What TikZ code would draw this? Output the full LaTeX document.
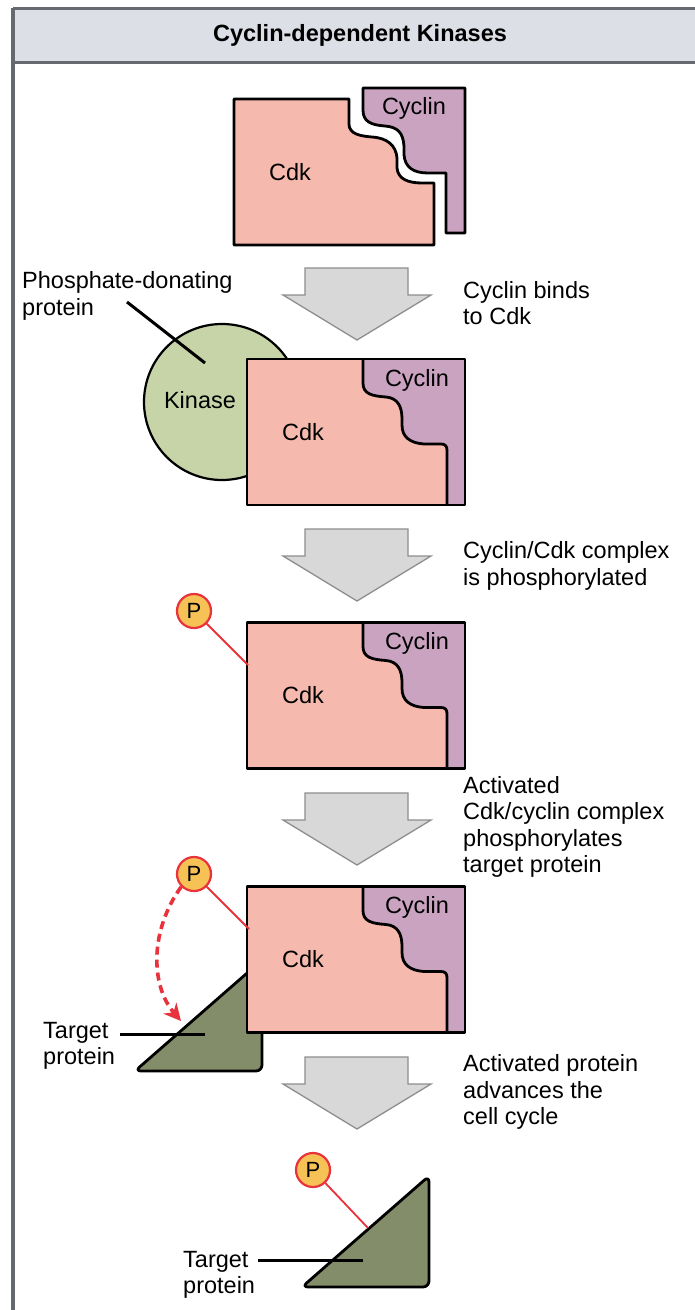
\documentclass[tikz,border=0pt]{standalone}
\usepackage{fontspec}
\setmainfont{Liberation Sans}
\usetikzlibrary{arrows.meta, positioning}
\definecolor{cdkpink}{HTML}{F5B9AD}
\definecolor{cyclinmauve}{HTML}{CAA3C1}
\definecolor{kinasegreen}{HTML}{C6D4A8}
\definecolor{targetgreen}{HTML}{848D6A}
\definecolor{headgray}{HTML}{DCDFE6}
\definecolor{framegray}{HTML}{66696E}
\definecolor{arrowfill}{HTML}{D8D8D8}
\definecolor{arrowedge}{HTML}{8E8E8E}
\definecolor{pyellow}{HTML}{F7C255}
\definecolor{pred}{HTML}{E8323C}
\tikzset{
  lbl/.style={font=\fontsize{23.5}{26.5}\selectfont, align=left, inner sep=0pt},
  outline/.style={draw=black, line width=2.8pt, line join=round},
  steparrow/.style={draw=arrowedge, fill=arrowfill, line width=1.3pt},
  phos/.style={circle, draw=pred, fill=pyellow, line width=2.2pt, minimum size=34pt, inner sep=0pt, font=\fontsize{22}{22}\selectfont},
  plink/.style={draw=pred, line width=1.8pt},
  leader/.style={draw=black, line width=3pt},
  transfer/.style={draw=pred, line width=3.6pt, dash pattern=on 8pt off 5pt, -{Stealth[length=17pt,width=17pt]}}
}

\begin{document}
\begin{tikzpicture}[x=1pt, y=-1pt, >=Stealth]
  \useasboundingbox (0,0) rectangle (695,1310);
  \fill[white] (0,0) rectangle (695,1310);
  \fill[headgray] (13,8) rectangle (695,62);
  \draw[framegray, line width=3pt] (13,8) -- (695,8);
  \draw[framegray, line width=3pt] (13,62) -- (695,62);
  \draw[framegray, line width=3.5pt] (13,8) -- (13,1310);
  \node[lbl, font=\fontsize{23.5}{26.5}\selectfont\bfseries] (title) at (360,35) {Cyclin-dependent Kinases};

  \foreach \y in {268,529,793,1057}
    \draw[steparrow] (305,\y) -- (408,\y) -- (408,\y+27) -- (431,\y+27) -- (357,\y+72) -- (283,\y+27) -- (305,\y+27) -- cycle;

  \draw[outline, fill=cdkpink] (234,99) -- (349,99) -- (349,124) .. controls (349,134) and (360,136) .. (372,137) .. controls (388,138) and (396,146) .. (397,158) -- (397,168) .. controls (398,179) and (408,183) .. (422,183) -- (434,183) -- (434,245) -- (234,245) -- cycle;
  \draw[outline, fill=cyclinmauve] (363,88) -- (465,88) -- (465,233) -- (446,233) -- (446,173) -- (428,173) .. controls (413,173) and (405,167) .. (404,155) -- (404,146) .. controls (403,133) and (398,127) .. (385,126) .. controls (370,125) and (363,121) .. (363,110) -- cycle;
  \node[lbl] (cdk1) at (290,172) {Cdk};
  \node[lbl] (cyc1) at (414,108) {Cyclin};

  \node[circle, draw=black, fill=kinasegreen, line width=2.2pt, minimum size=156pt, inner sep=0pt] (kinase) at (222,402) {};
  \node[lbl] (kinaseLabel) at (200,400) {Kinase};
  \node[lbl, anchor=west] (donor) at (22,296) {Phosphate-donating\\protein};
  \coordinate (donorA) at (127,302);
  \coordinate (donorB) at (205,363);
  \draw[leader] (donorA) -- (donorB);

  \draw[outline, fill=targetgreen, rounded corners=6pt] (135,1071) -- (262,960) -- (262,1071) -- cycle;

  \foreach \dy/\n in {0/2, 263.5/3, 527.5/4} {
    \begin{scope}[shift={(0,\dy)}]
      \fill[cdkpink] (247,359) rectangle (465,505);
      \fill[cyclinmauve] (363,359) -- (363,383) .. controls (363,394) and (372,396) .. (386,397) .. controls (398,398) and (402,407) .. (402,419) -- (402,425) .. controls (402,437) and (410,443) .. (424,444) -- (441,444) .. controls (445,444) and (447,446) .. (447,450) -- (447,505) -- (465,505) -- (465,359) -- cycle;
      \draw[outline] (363,359) -- (363,383) .. controls (363,394) and (372,396) .. (386,397) .. controls (398,398) and (402,407) .. (402,419) -- (402,425) .. controls (402,437) and (410,443) .. (424,444) -- (441,444) .. controls (445,444) and (447,446) .. (447,450) -- (447,505);
      \draw[outline] (247,359) rectangle (465,505);
      \node[lbl] (cdk\n) at (303,432) {Cdk};
      \node[lbl] (cyc\n) at (417,380) {Cyclin};
    \end{scope}
  }

  \node[phos] (p3) at (194,611) {P};
  \coordinate (bond3) at (248,665);
  \draw[plink] (p3) -- (bond3);

  \node[phos] (p4) at (194,874) {P};
  \coordinate (bond4) at (249,929);
  \draw[plink] (p4) -- (bond4);
  \coordinate (hit4) at (181,1021);
  \draw[transfer] (p4.-135) .. controls (150,930) and (150,985) .. (hit4);
  \node[lbl, anchor=west] (target4) at (43,1046) {Target\\protein};
  \coordinate (target4A) at (120,1034);
  \coordinate (target4B) at (205,1034);
  \draw[leader] (target4A) -- (target4B);

  \draw[outline, fill=targetgreen, rounded corners=6pt] (302,1287) -- (429,1176) -- (429,1287) -- cycle;
  \node[phos] (p5) at (313,1170) {P};
  \coordinate (bond5) at (368,1228);
  \draw[plink] (p5) -- (bond5);
  \node[lbl, anchor=west] (target5) at (183,1275) {Target\\protein};
  \coordinate (target5A) at (258,1260);
  \coordinate (target5B) at (363,1260);
  \draw[leader] (target5A) -- (target5B);

  \node[lbl, anchor=west] (step1) at (463,303) {Cyclin binds\\to Cdk};
  \node[lbl, anchor=west] (step2) at (463,566) {Cyclin/Cdk complex\\is phosphorylated};
  \node[lbl, anchor=west] (step3) at (463,827) {Activated\\Cdk/cyclin complex\\phosphorylates\\target protein};
  \node[lbl, anchor=west] (step4) at (463,1092) {Activated protein\\advances the\\cell cycle};
\end{tikzpicture}
\end{document}
